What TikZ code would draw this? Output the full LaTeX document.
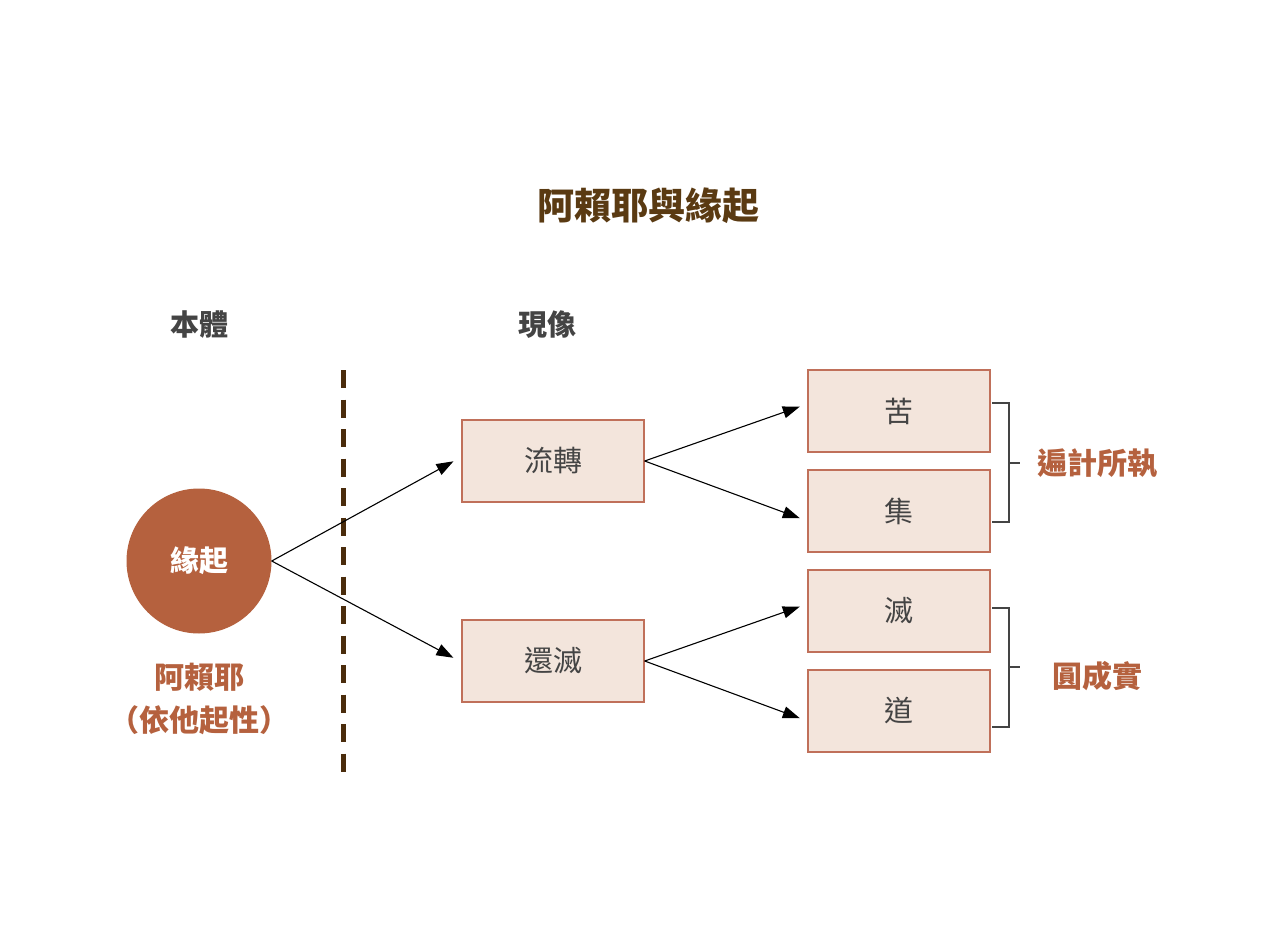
\documentclass[tikz,border=0pt]{standalone}
\usepackage{fontspec}
\setmainfont{Noto Sans CJK TC}
\usetikzlibrary{arrows.meta,calc}
\definecolor{titlebrown}{HTML}{5A3A12}
\definecolor{dashbrown}{HTML}{4A2C0C}
\definecolor{rust}{HTML}{B5613E}
\definecolor{boxfill}{HTML}{F3E5DC}
\definecolor{boxline}{HTML}{C0705A}
\definecolor{txtgray}{HTML}{444444}
\tikzset{
  stagebox/.style={draw=boxline, line width=1.3pt, fill=boxfill, minimum width=182pt, minimum height=82pt, inner sep=0pt, font=\fontsize{29}{34}\selectfont, text=txtgray},
  head/.style={font=\bfseries\fontsize{29}{34}\selectfont, text=txtgray},
  rustlabel/.style={font=\bfseries\fontsize{30}{35}\selectfont, text=rust, align=center},
  flow/.style={draw=black, line width=1.1pt, -{Triangle[length=17pt,width=12pt]}},
  brace/.style={draw=txtgray, line width=1.2pt},
}
\begin{document}
\begin{tikzpicture}[x=1pt,y=-1pt]
\useasboundingbox[fill=white] (0,0) rectangle (1280,952);
\node[font=\bfseries\fontsize{37}{42}\selectfont, text=titlebrown] (title) at (648,206) {阿賴耶與緣起};
\node[head] (bt) at (199,325) {本體};
\node[head] (xx) at (547,325) {現像};
\coordinate (d1) at (343,370);
\coordinate (d2) at (343,772);
\draw[dashbrown, line width=5pt, dash pattern=on 18pt off 11.5pt] (d1) -- (d2);
\node[circle, fill=rust, minimum size=145pt, inner sep=0pt, text=white, font=\bfseries\fontsize{29}{34}\selectfont] (c) at (199,561) {緣起};
\node[rustlabel] (al) at (199,677) {阿賴耶};
\node[rustlabel] (yt) at (199,720) {（依他起性）};
\node[stagebox] (lz) at (553,461) {流轉};
\node[stagebox] (hm) at (553,661) {還滅};
\node[stagebox] (ku) at (899,411) {苦};
\node[stagebox] (ji) at (899,511) {集};
\node[stagebox] (mie) at (899,611) {滅};
\node[stagebox] (dao) at (899,711) {道};
\draw[flow, shorten >=9pt] (c.east) -- ([yshift=4pt]lz.west);
\draw[flow, shorten >=9pt] (c.east) -- ([yshift=-1pt]hm.west);
\draw[flow, shorten >=8pt] (lz.east) -- ([yshift=7pt]ku.west);
\draw[flow, shorten >=8pt] (lz.east) -- ([yshift=-10pt]ji.west);
\draw[flow, shorten >=8pt] (hm.east) -- ([yshift=7pt]mie.west);
\draw[flow, shorten >=8pt] (hm.east) -- ([yshift=-10pt]dao.west);
\coordinate (b1a) at (992,403);
\coordinate (b1b) at (992,522);
\coordinate (b1m) at (1009,463);
\coordinate (b1t) at (1020,463);
\draw[brace] (b1a) -- (1009,403) -- (1009,522) -- (b1b);
\draw[brace] (b1m) -- (b1t);
\node[rustlabel] (bj) at (1097,463) {遍計所執};
\coordinate (b2a) at (992,608);
\coordinate (b2b) at (992,727);
\coordinate (b2m) at (1009,667);
\coordinate (b2t) at (1020,667);
\draw[brace] (b2a) -- (1009,608) -- (1009,727) -- (b2b);
\draw[brace] (b2m) -- (b2t);
\node[rustlabel] (yc) at (1097,676) {圓成實};
\end{tikzpicture}
\end{document}
